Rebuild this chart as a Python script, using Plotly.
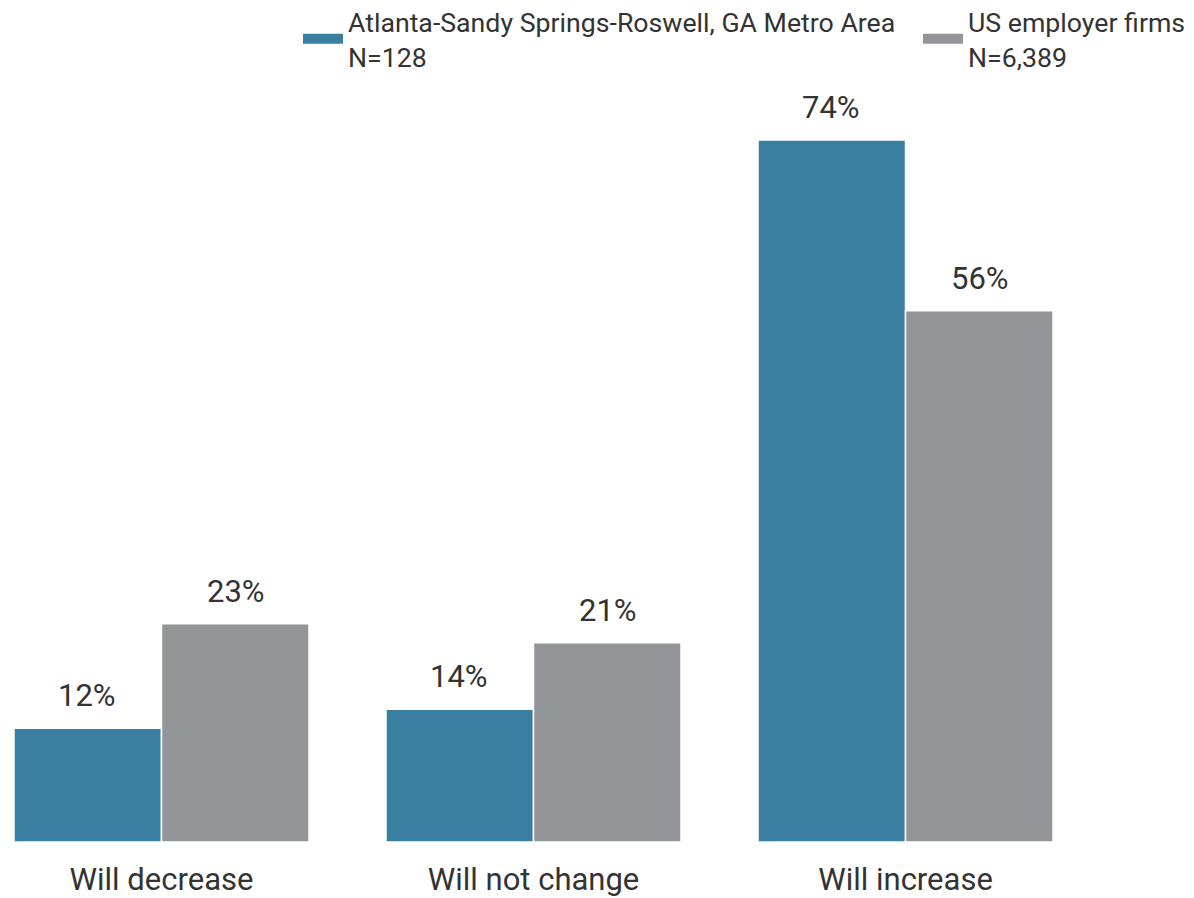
import plotly.graph_objects as go

categories = ["Will decrease", "Will not change", "Will increase"]
atlanta = [12, 14, 74]
us_firms = [23, 21, 56]
series_names = ["Atlanta-Sandy Springs-Roswell, GA Metro Area<br>N=128",
                "US employer firms<br>N=6,389"]
colors = ["#3a7ea1", "#949598"]

fig = go.Figure()
for name, vals, col, lg in [(series_names[0], atlanta, colors[0], "legend"),
                            (series_names[1], us_firms, colors[1], "legend2")]:
    fig.add_trace(go.Bar(x=categories, y=vals, marker=dict(color=col, line=dict(color="white", width=1.5)),
                         showlegend=False, hoverinfo="skip"))
    fig.add_trace(go.Scatter(x=[None], y=[None], mode="lines", name=name, legend=lg,
                             line=dict(color=col, width=10)))

annotations = []
for i, cat in enumerate(categories):
    for vals, shift in [(atlanta, -0.2), (us_firms, 0.2)]:
        annotations.append(dict(x=i + shift, y=vals[i], xref="x", yref="y", text=f"{vals[i]}%",
                                showarrow=False, yanchor="bottom", yshift=12,
                                font=dict(size=31, color="#333333", family="Roboto")))

legend_common = dict(orientation="h", xref="container", yref="paper", xanchor="left",
                     y=1.1125, yanchor="top", font=dict(size=26.7, color="#333333"),
                     itemwidth=40, bgcolor="rgba(0,0,0,0)")

fig.update_layout(
    width=1186, height=890,
    margin=dict(l=0, r=0, t=75, b=56, autoexpand=False),
    plot_bgcolor="white", paper_bgcolor="white",
    barmode="group", bargap=0.207, bargroupgap=0,
    font=dict(family="Roboto", color="#333333"),
    annotations=annotations,
    legend=dict(x=0.2445, **legend_common),
    legend2=dict(x=0.7673, **legend_common),
    xaxis=dict(range=[-0.4126, 2.7755], showgrid=False, showline=False, zeroline=False,
               ticks="", tickfont=dict(size=31, color="#333333"), ticklabelstandoff=16),
    yaxis=dict(range=[0, 80], visible=False),
)
fig.write_html("out.html")
